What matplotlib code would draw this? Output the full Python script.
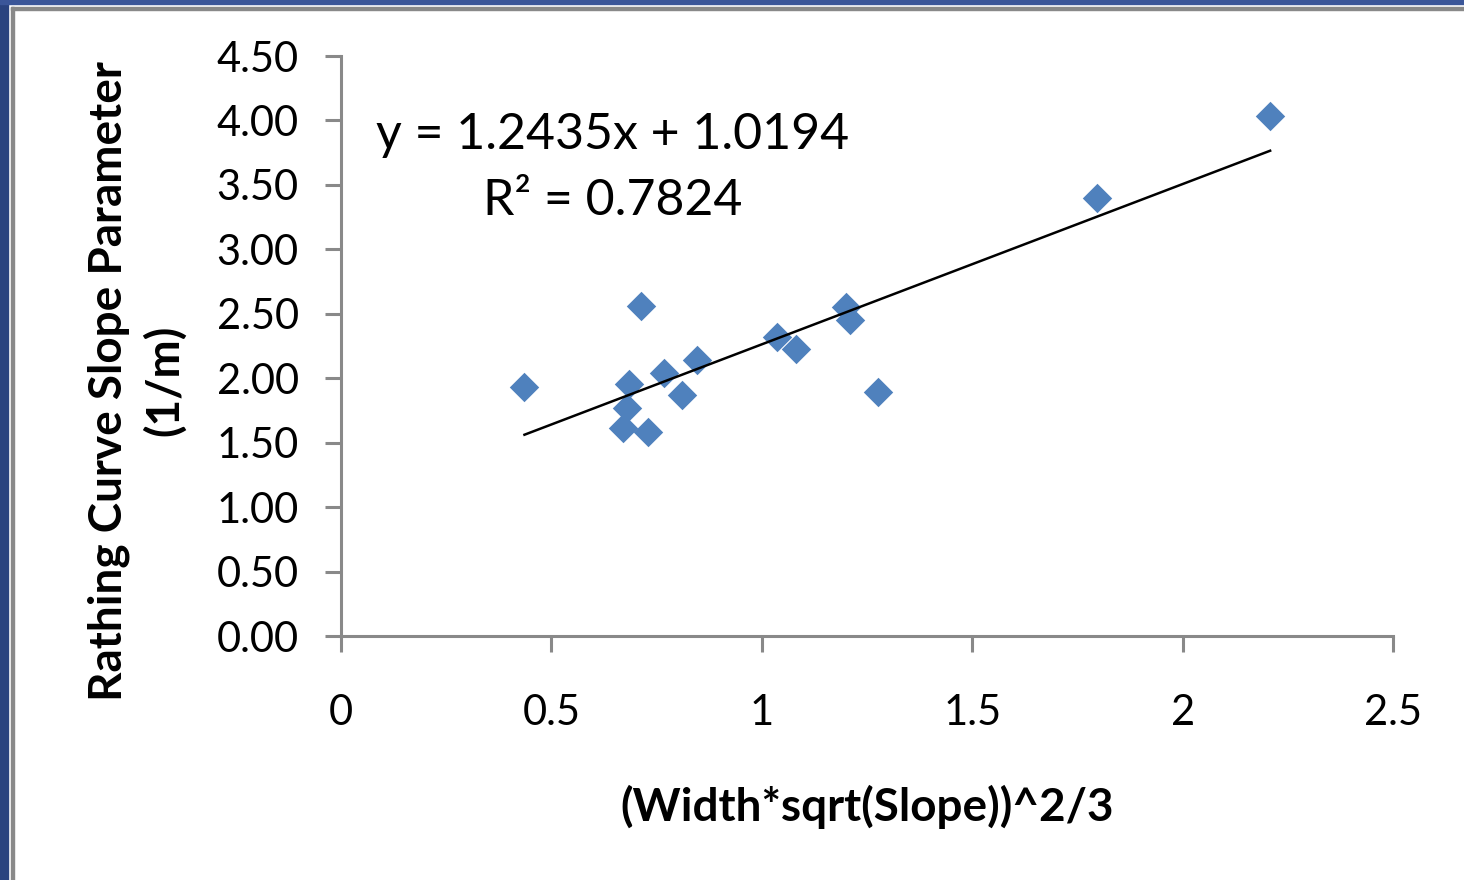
import matplotlib.pyplot as plt
from matplotlib.patches import Rectangle
import numpy as np

# valores
x_vals = [0.436, 0.712, 0.685, 0.679, 0.671, 0.730, 0.768, 0.810, 0.847,
          1.035, 1.081, 1.200, 1.210, 1.277, 1.796, 2.208]
y_vals = [1.934, 2.562, 1.955, 1.767, 1.611, 1.585, 2.038, 1.870, 2.141,
          2.322, 2.224, 2.555, 2.452, 1.891, 3.396, 4.034]
slope, intercept = 1.2435, 1.0194
r2 = 0.7824
x_ticks = [0, 0.5, 1, 1.5, 2, 2.5]
x_ticklabels = ['0', '0.5', '1', '1.5', '2', '2.5']
y_ticks = [0, 0.5, 1, 1.5, 2, 2.5, 3, 3.5, 4, 4.5]

plt.rcParams['font.family'] = ['Lato', 'DejaVu Sans']

W, H = 1464, 880
fig = plt.figure(figsize=(W / 100, H / 100), dpi=100)
fig.patch.set_facecolor('white')

# marco azul y gris de la diapositiva
fig.patches.append(Rectangle((0, 0), 8 / W, 1, transform=fig.transFigure,
                             color='#2a437f', zorder=0))
fig.patches.append(Rectangle((0, 1 - 4 / H), 1, 4 / H, transform=fig.transFigure,
                             color='#3b5699', zorder=0))
fig.patches.append(Rectangle((11 / W, 0), 3 / W, 1 - 7 / H, transform=fig.transFigure,
                             color='#898989', zorder=0))
fig.patches.append(Rectangle((11 / W, 1 - 10 / H), 1, 3 / H, transform=fig.transFigure,
                             color='#898989', zorder=0))

ax = fig.add_axes([341 / W, 1 - 636 / H, (1393 - 341) / W, (636 - 56) / H])
ax.set_facecolor('none')

ax.scatter(x_vals, y_vals, marker='D', s=15 ** 2, color='#4f81bd',
           linewidths=0, zorder=3, clip_on=False)

xl = np.array([min(x_vals), max(x_vals)])
ax.plot(xl, slope * xl + intercept, color='black', linewidth=1.8, zorder=4)

ax.text(0.645, 3.63, f'y = {slope}x + {intercept}\nR² = {r2}', ha='center',
        va='center', fontsize=36, linespacing=1.55, color='black')

ax.set_xlim(0, 2.5)
ax.set_ylim(0, 4.5)
ax.set_xticks(x_ticks)
ax.set_xticklabels(x_ticklabels)
ax.set_yticks(y_ticks)
ax.set_yticklabels([f'{v:.2f}' for v in y_ticks])

for s in ['top', 'right']:
    ax.spines[s].set_visible(False)
for s in ['left', 'bottom']:
    ax.spines[s].set_color('#898989')
    ax.spines[s].set_linewidth(2.2)

ax.tick_params(axis='both', direction='out', length=11.5, width=2.2,
               color='#898989', labelsize=30, labelcolor='black')
ax.tick_params(axis='x', pad=30)
ax.tick_params(axis='y', pad=19)

ax.set_xlabel('(Width*sqrt(Slope))^2/3', fontsize=33, fontweight='bold', labelpad=38)
ax.set_ylabel('Rathing Curve Slope Parameter\n(1/m)', fontsize=33,
              fontweight='bold', labelpad=22, linespacing=1.35)
ax.yaxis.label.set_y(0.44)

fig.savefig('out.png', dpi=100)
print("Execution successful")
